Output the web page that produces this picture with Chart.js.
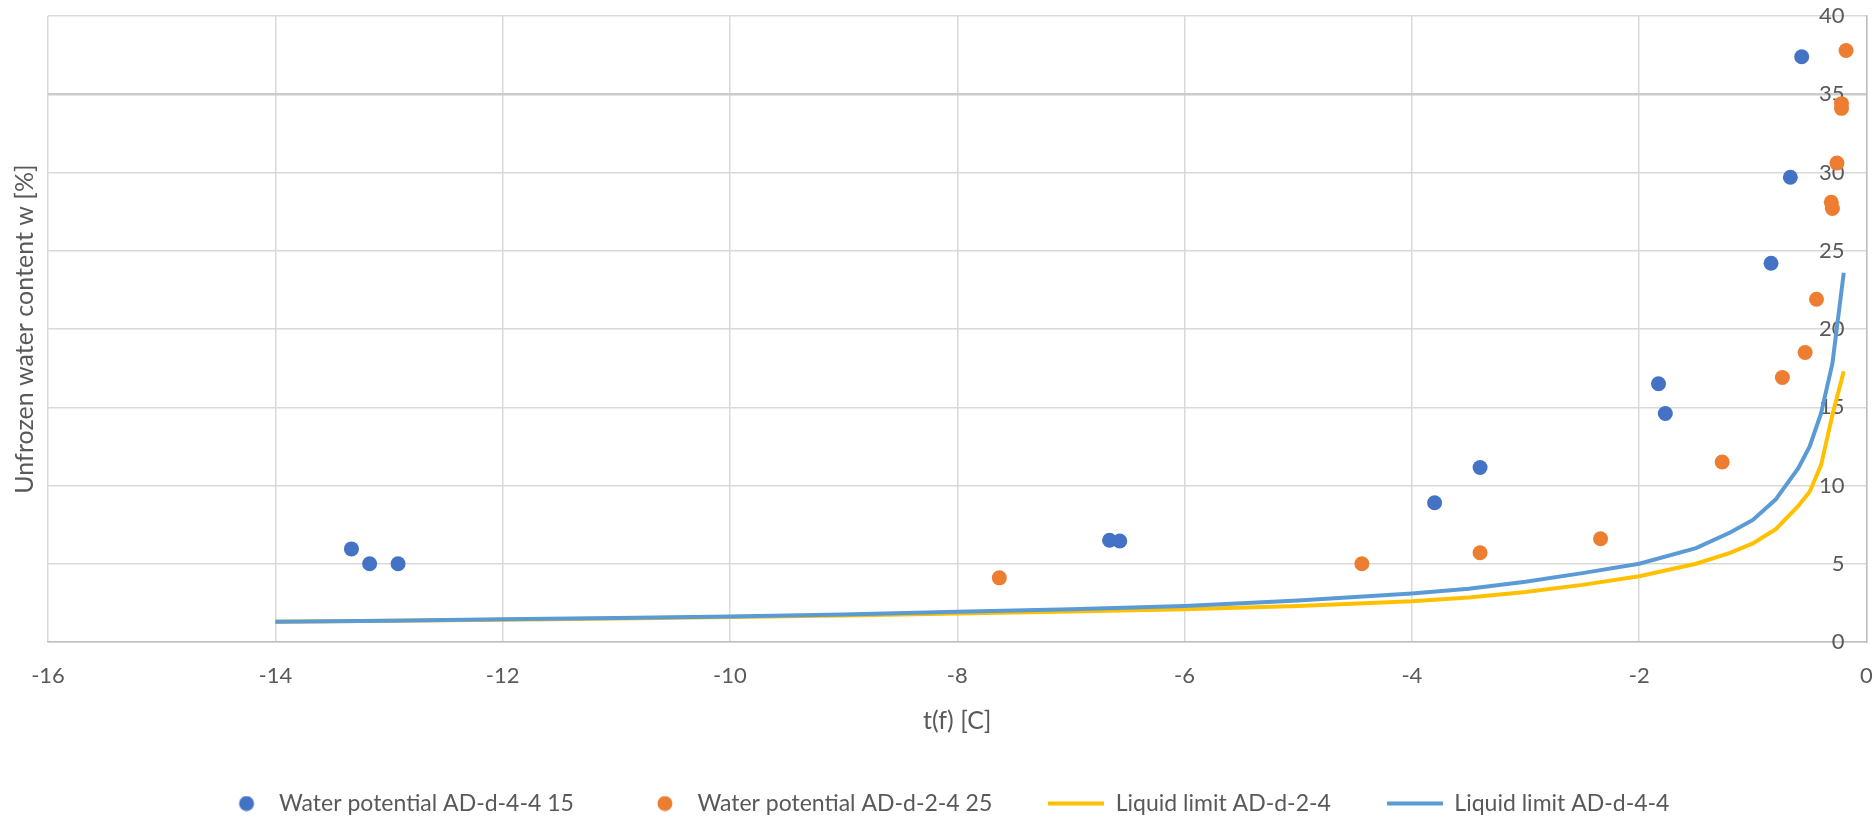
<!DOCTYPE html>
<html>
<head>
<meta charset="utf-8">
<script src="https://cdn.jsdelivr.net/npm/chart.js@4.4.1/dist/chart.umd.min.js"></script>
<style>
  html, body { margin: 0; padding: 0; background: #ffffff; }
  #wrap { width: 1874px; height: 819px; }
</style>
</head>
<body>
<div id="wrap"><canvas id="c" width="1874" height="819"></canvas></div>
<script>
// ---- data ----
const seriesNames = [
  'Water potential AD-d-4-4 15',
  'Water potential AD-d-2-4 25',
  'Liquid limit AD-d-2-4',
  'Liquid limit AD-d-4-4'
];
const xTickLabels = ['-16', '-14', '-12', '-10', '-8', '-6', '-4', '-2', '0'];
const yTickLabels = ['0', '5', '10', '15', '20', '25', '30', '35', '40'];

const wp44X = [-13.33, -13.17, -12.92, -6.66, -6.57, -3.80, -3.40, -1.83, -1.77, -0.84, -0.67, -0.57];
const wp44Y = [5.95, 5.0, 5.0, 6.5, 6.45, 8.9, 11.15, 16.5, 14.6, 24.2, 29.7, 37.4];

const wp24X = [-7.63, -4.44, -3.40, -2.34, -1.27, -0.74, -0.54, -0.44, -0.31, -0.30, -0.26, -0.22, -0.22, -0.18];
const wp24Y = [4.1, 5.0, 5.7, 6.6, 11.5, 16.9, 18.5, 21.9, 28.1, 27.7, 30.6, 34.4, 34.1, 37.8];

const llX   = [-14, -13, -12, -11, -10, -9, -8, -7, -6, -5, -4, -3.5, -3, -2.5, -2, -1.5, -1.2, -1, -0.8, -0.6, -0.5, -0.4, -0.3, -0.2];
const ll24Y = [1.3, 1.35, 1.42, 1.5, 1.6, 1.7, 1.82, 1.95, 2.1, 2.3, 2.6, 2.85, 3.2, 3.65, 4.2, 5.0, 5.7, 6.3, 7.2, 8.7, 9.6, 11.3, 14.5, 17.3];
const ll44Y = [1.3, 1.36, 1.45, 1.53, 1.63, 1.76, 1.93, 2.1, 2.3, 2.65, 3.1, 3.4, 3.85, 4.4, 5.0, 6.0, 7.0, 7.8, 9.1, 11.1, 12.5, 14.6, 17.8, 23.6];

// ---- styling ----
const C_BLUE_PT = '#4472C4';
const C_ORANGE_PT = '#ED7D31';
const C_YELLOW = '#FFC000';
const C_BLUE_LN = '#5B9BD5';
const TXT = '#595959';
const GRID = '#d9d9d9';
const FAMILY = 'Lato, "Open Sans", sans-serif';
const TICK_FONT = { family: FAMILY, size: 22 };
const XTICK_FONT = { family: FAMILY, size: 22, lineHeight: '68px' };
const TITLE_FONT = { family: FAMILY, size: 25 };
const LEGEND_FONT = { family: FAMILY, size: 23 };

function pts(xs, ys) { return xs.map((x, i) => ({ x: x, y: ys[i] })); }

function circleMarker(color) {
  const c = document.createElement('canvas');
  c.width = 44; c.height = 16;
  const g = c.getContext('2d');
  g.fillStyle = color; g.beginPath(); g.arc(29, 8, 7.5, 0, Math.PI * 2); g.fill();
  return c;
}
function lineMarker(color) {
  const c = document.createElement('canvas');
  c.width = 56; c.height = 5;
  const g = c.getContext('2d');
  g.fillStyle = color; g.fillRect(0, 0.5, 56, 4);
  return c;
}
const markers = [circleMarker(C_BLUE_PT), circleMarker(C_ORANGE_PT), lineMarker(C_YELLOW), lineMarker(C_BLUE_LN)];

new Chart(document.getElementById('c'), {
  type: 'scatter',
  data: {
    datasets: [
      { label: seriesNames[0], data: pts(wp44X, wp44Y), backgroundColor: C_BLUE_PT, borderWidth: 0, pointRadius: 7.5, pointHoverRadius: 7.5, order: 3 },
      { label: seriesNames[1], data: pts(wp24X, wp24Y), backgroundColor: C_ORANGE_PT, borderWidth: 0, pointRadius: 7.5, pointHoverRadius: 7.5, order: 2 },
      { label: seriesNames[2], data: pts(llX, ll24Y), showLine: true, borderColor: C_YELLOW, backgroundColor: C_YELLOW, borderWidth: 4, pointRadius: 0, tension: 0, order: 1 },
      { label: seriesNames[3], data: pts(llX, ll44Y), showLine: true, borderColor: C_BLUE_LN, backgroundColor: C_BLUE_LN, borderWidth: 4, pointRadius: 0, tension: 0, order: 0 }
    ]
  },
  options: {
    responsive: false,
    animation: false,
    devicePixelRatio: 1,
    layout: { padding: { left: 7, right: 0, top: 16, bottom: -6 } },
    plugins: {
      tooltip: { enabled: false },
      legend: {
        position: 'bottom',
        labels: {
          usePointStyle: true,
          pointStyleWidth: 56,
          padding: 56,
          font: LEGEND_FONT,
          color: TXT,
          sort: (a, b) => a.datasetIndex - b.datasetIndex,
          generateLabels: (chart) => {
            const items = Chart.defaults.plugins.legend.labels.generateLabels(chart);
            items.forEach(it => { it.pointStyle = markers[it.datasetIndex]; });
            return items;
          }
        }
      }
    },
    scales: {
      x: {
        type: 'linear', min: -16, max: 0,
        afterBuildTicks: (s) => { s.ticks = xTickLabels.map(v => ({ value: Number(v) })); },
        ticks: { font: XTICK_FONT, color: TXT, padding: 0, callback: (v) => String(v) },
        grid: { color: GRID, lineWidth: 1.5, drawTicks: false },
        border: { display: true, color: '#bfbfbf', width: 1.5 },
        title: { display: true, text: 't(f) [C]', font: TITLE_FONT, color: TXT, padding: { top: -4, bottom: 0 } }
      },
      y: {
        position: 'left', min: 0, max: 40,
        afterBuildTicks: (s) => { s.ticks = yTickLabels.map(v => ({ value: Number(v) })); },
        ticks: { display: false },
        grid: {
          color: (c) => (c.tick && c.tick.value === 35 ? '#cccccc' : GRID),
          lineWidth: (c) => (c.tick && c.tick.value === 35 ? 2.5 : 1.5),
          drawTicks: false
        },
        border: { display: false },
        title: { display: true, text: 'Unfrozen water content w [%]', font: TITLE_FONT, color: TXT, padding: { top: 3, bottom: 8 } }
      },
      y2: {
        position: 'right', min: 0, max: 40,
        afterBuildTicks: (s) => { s.ticks = yTickLabels.map(v => ({ value: Number(v) })); },
        ticks: { mirror: true, padding: -22, font: TICK_FONT, color: TXT, callback: (v) => String(v) },
        grid: { display: false, drawTicks: false },
        border: { display: true, color: '#bfbfbf', width: 1.5 }
      }
    }
  }
});
</script>
</body>
</html>
